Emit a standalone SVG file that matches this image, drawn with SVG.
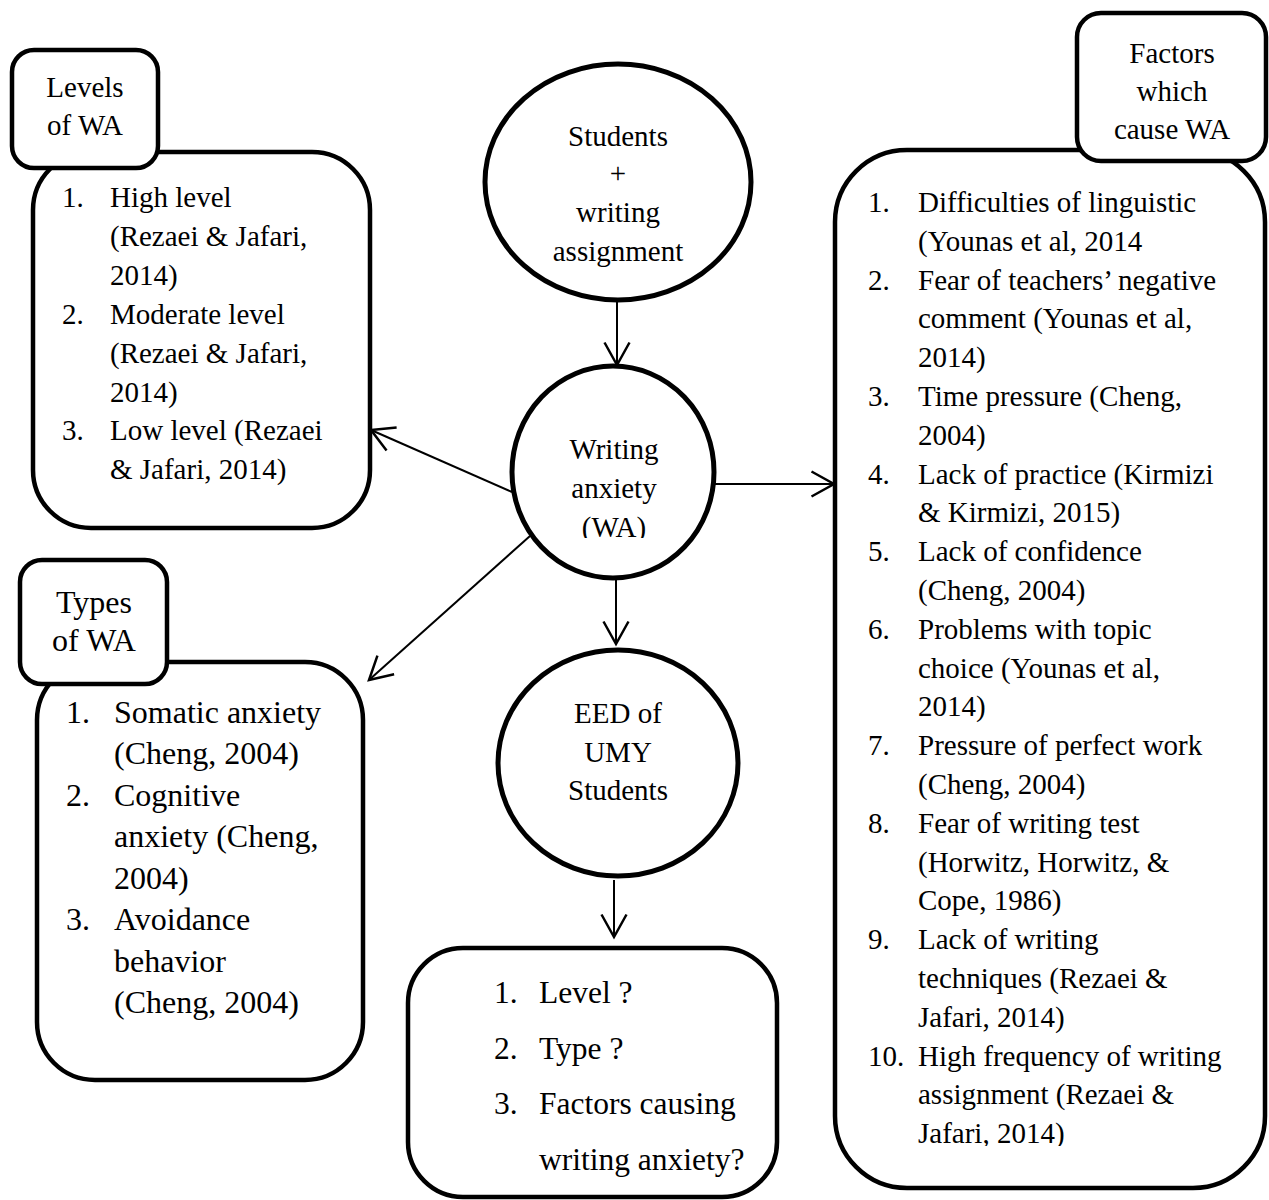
<svg xmlns="http://www.w3.org/2000/svg" width="1269" height="1200" viewBox="0 0 1269 1200" font-family="'Liberation Serif', 'Times New Roman', serif">
<defs>
<style>
text{font-family:"Liberation Serif","Times New Roman",serif;fill:#000}
.box{fill:#fff;stroke:#000;stroke-width:4.5}
.circ{fill:#fff;stroke:#000;stroke-width:5}
.t{font-size:29px}
.tb{font-size:32px}
.tq{font-size:31.5px}
.c{text-anchor:middle}
.conn{stroke:#000;stroke-width:2;fill:none}
</style>
<marker id="ah" markerUnits="userSpaceOnUse" markerWidth="30" markerHeight="30" viewBox="-20 -12 22 24" refX="0" refY="0" orient="auto">
<path d="M-18,-10 L0,0 L-18,10" fill="none" stroke="#000" stroke-width="2"/>
</marker>
<clipPath id="clipWA"><rect x="500" y="360" width="230" height="178"/></clipPath>
<clipPath id="clipR"><rect x="840" y="150" width="420" height="996"/></clipPath>
</defs>
<rect width="1269" height="1200" fill="#fff"/>

<g id="connectors">
<line class="conn" x1="617" y1="300" x2="617" y2="365" marker-end="url(#ah)"/>
<line class="conn" x1="512" y1="492" x2="371" y2="430" marker-end="url(#ah)"/>
<line class="conn" x1="714" y1="484" x2="834" y2="484" marker-end="url(#ah)"/>
<line class="conn" x1="530" y1="536" x2="369" y2="680" marker-end="url(#ah)"/>
<line class="conn" x1="616" y1="578" x2="616" y2="644" marker-end="url(#ah)"/>
<line class="conn" x1="614" y1="880" x2="614" y2="937" marker-end="url(#ah)"/>
</g>

<g id="levels">
<rect class="box" x="33" y="152" width="337" height="376" rx="58"/>
<g class="t" font-family="'Liberation Serif', serif" font-size="29">
<text x="62" y="207">1.</text><text x="110" y="207">High level</text>
<text x="110" y="246">(Rezaei &amp; Jafari,</text>
<text x="110" y="285">2014)</text>
<text x="62" y="324">2.</text><text x="110" y="324">Moderate level</text>
<text x="110" y="363">(Rezaei &amp; Jafari,</text>
<text x="110" y="402">2014)</text>
<text x="62" y="440">3.</text><text x="110" y="440">Low level (Rezaei</text>
<text x="110" y="479">&amp; Jafari, 2014)</text>
</g>
</g>
<g id="levels-header">
<rect class="box" x="12" y="50" width="146" height="118" rx="22"/>
<g class="t c" font-family="'Liberation Serif', serif" font-size="29" text-anchor="middle">
<text x="85" y="97">Levels</text>
<text x="85" y="135">of WA</text>
</g>
</g>

<g id="types">
<rect class="box" x="37" y="662" width="326" height="418" rx="58"/>
<g class="tb" font-family="'Liberation Serif', serif" font-size="32">
<text x="66" y="723">1.</text><text x="114" y="723">Somatic anxiety</text>
<text x="114" y="764">(Cheng, 2004)</text>
<text x="66" y="806">2.</text><text x="114" y="806">Cognitive</text>
<text x="114" y="847">anxiety (Cheng,</text>
<text x="114" y="889">2004)</text>
<text x="66" y="930">3.</text><text x="114" y="930">Avoidance</text>
<text x="114" y="972">behavior</text>
<text x="114" y="1013">(Cheng, 2004)</text>
</g>
</g>
<g id="types-header">
<rect class="box" x="20" y="560" width="147" height="124" rx="22"/>
<g class="tb c" font-family="'Liberation Serif', serif" font-size="31" text-anchor="middle">
<text x="94" y="613">Types</text>
<text x="94" y="651">of WA</text>
</g>
</g>

<g id="students">
<ellipse class="circ" cx="618" cy="182" rx="133" ry="118"/>
<g class="t c" font-family="'Liberation Serif', serif" font-size="29" text-anchor="middle">
<text x="618" y="146">Students</text>
<text x="618" y="183">+</text>
<text x="618" y="222">writing</text>
<text x="618" y="261">assignment</text>
</g>
</g>

<g id="writing-anxiety">
<ellipse class="circ" cx="613" cy="472" rx="101" ry="106"/>
<g class="t c" clip-path="url(#clipWA)" font-family="'Liberation Serif', serif" font-size="29" text-anchor="middle">
<text x="614" y="459">Writing</text>
<text x="614" y="498">anxiety</text>
<text x="614" y="537">(WA)</text>
</g>
</g>

<g id="eed">
<ellipse class="circ" cx="618" cy="763" rx="120" ry="113"/>
<g class="t c" font-family="'Liberation Serif', serif" font-size="29" text-anchor="middle">
<text x="618" y="723">EED of</text>
<text x="618" y="762">UMY</text>
<text x="618" y="800">Students</text>
</g>
</g>

<g id="questions">
<rect class="box" x="408" y="948" width="369" height="249" rx="55"/>
<g class="tq" font-family="'Liberation Serif', serif" font-size="31.5">
<text x="494" y="1003">1.</text><text x="539" y="1003">Level ?</text>
<text x="494" y="1059">2.</text><text x="539" y="1059">Type ?</text>
<text x="494" y="1114">3.</text><text x="539" y="1114">Factors causing</text>
<text x="539" y="1170">writing anxiety?</text>
</g>
</g>

<g id="factors">
<rect class="box" x="835" y="150" width="430" height="1038" rx="72"/>
<g class="t" clip-path="url(#clipR)" font-family="'Liberation Serif', serif" font-size="29">
<text x="868" y="212">1.</text><text x="918" y="212">Difficulties of linguistic</text>
<text x="918" y="251">(Younas et al, 2014</text>
<text x="868" y="290">2.</text><text x="918" y="290">Fear of teachers’ negative</text>
<text x="918" y="328">comment (Younas et al,</text>
<text x="918" y="367">2014)</text>
<text x="868" y="406">3.</text><text x="918" y="406">Time pressure (Cheng,</text>
<text x="918" y="445">2004)</text>
<text x="868" y="484">4.</text><text x="918" y="484">Lack of practice (Kirmizi</text>
<text x="918" y="522">&amp; Kirmizi, 2015)</text>
<text x="868" y="561">5.</text><text x="918" y="561">Lack of confidence</text>
<text x="918" y="600">(Cheng, 2004)</text>
<text x="868" y="639">6.</text><text x="918" y="639">Problems with topic</text>
<text x="918" y="678">choice (Younas et al,</text>
<text x="918" y="716">2014)</text>
<text x="868" y="755">7.</text><text x="918" y="755">Pressure of perfect work</text>
<text x="918" y="794">(Cheng, 2004)</text>
<text x="868" y="833">8.</text><text x="918" y="833">Fear of writing test</text>
<text x="918" y="872">(Horwitz, Horwitz, &amp;</text>
<text x="918" y="910">Cope, 1986)</text>
<text x="868" y="949">9.</text><text x="918" y="949">Lack of writing</text>
<text x="918" y="988">techniques (Rezaei &amp;</text>
<text x="918" y="1027">Jafari, 2014)</text>
<text x="868" y="1066">10.</text><text x="918" y="1066">High frequency of writing</text>
<text x="918" y="1104">assignment (Rezaei &amp;</text>
<text x="918" y="1143">Jafari, 2014)</text>
</g>
</g>
<g id="factors-header">
<rect class="box" x="1077" y="13" width="189" height="148" rx="24"/>
<g class="t c" font-family="'Liberation Serif', serif" font-size="29" text-anchor="middle">
<text x="1172" y="63">Factors</text>
<text x="1172" y="101">which</text>
<text x="1172" y="139">cause WA</text>
</g>
</g>
</svg>
